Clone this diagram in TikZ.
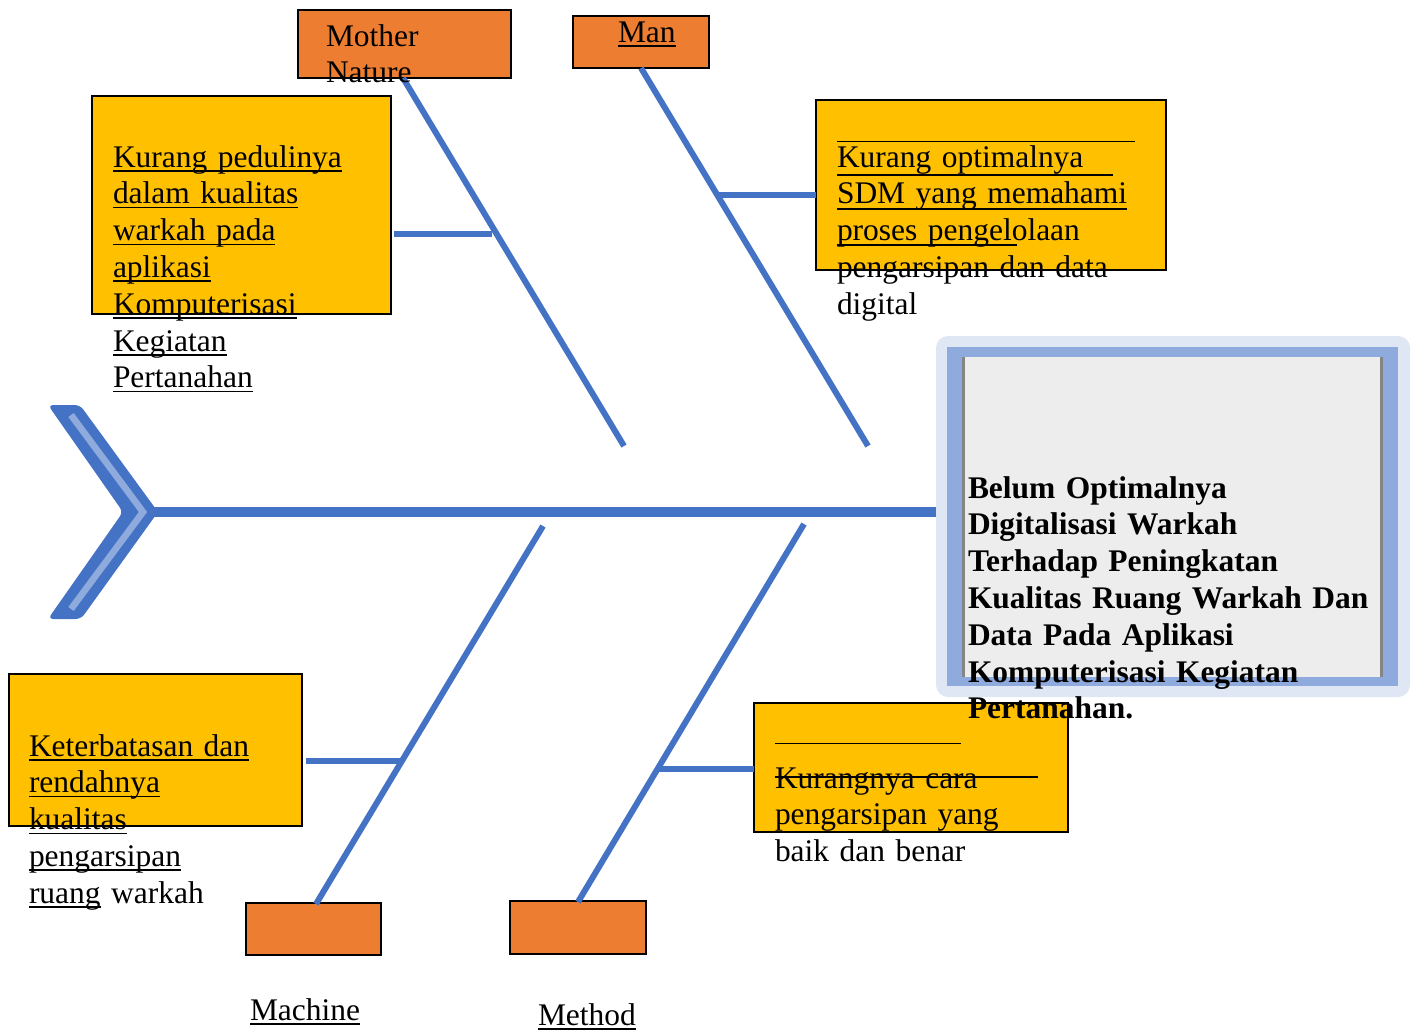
\documentclass[tikz,border=0pt]{standalone}
\usepackage{fontspec}
\setmainfont{Liberation Serif}
\newsavebox\myulbox
\newcommand\myul[1]{\leavevmode\sbox\myulbox{#1}\rlap{\rule[-3.4pt]{\wd\myulbox}{1.2pt}}\usebox\myulbox}
\definecolor{myorange}{HTML}{ED7D31}
\definecolor{myyellow}{HTML}{FFC000}
\definecolor{myblue}{HTML}{4472C4}
\definecolor{mylight}{HTML}{8FAADC}
\definecolor{myglow}{HTML}{DEE7F3}
\definecolor{mygray}{HTML}{EDEDED}
\definecolor{myedge}{HTML}{858585}
\tikzset{
  obox/.style={draw=black, line width=1.5pt, fill=myorange, anchor=north west, inner sep=0pt, outer sep=0pt},
  ybox/.style={draw=black, line width=1.5pt, fill=myyellow, anchor=north west, inner sep=0pt, outer sep=0pt},
  bone/.style={draw=myblue, line width=4.5pt},
  twig/.style={draw=myblue, line width=3.8pt},
  rulel/.style={draw=black, line width=1.2pt},
  txt/.style={anchor=base west, inner sep=0pt, outer sep=0pt, align=left, text width=420pt,
    font=\fontsize{23.6pt}{27.6pt}\selectfont},
}
\begin{document}
\begin{tikzpicture}[x=0.75pt,y=-0.75pt]
\useasboundingbox (0,0) rectangle (1415,1032);

% effect box
\node[fill=myglow, rounded corners=9pt, anchor=north west, inner sep=0pt, outer sep=0pt,
      minimum width={474*0.75pt}, minimum height={361*0.75pt}] (eff) at (936,336) {};
\node[fill=mylight, anchor=north west, inner sep=0pt, outer sep=0pt,
      minimum width={451*0.75pt}, minimum height={339*0.75pt}] (band) at (947,347) {};
\node[fill=mygray, anchor=north west, inner sep=0pt, outer sep=0pt,
      minimum width={421*0.75pt}, minimum height={320*0.75pt}] (inner) at (962,357) {};
\draw[myedge, line width=1.6pt] (inner.north west) ++(1.5,0) -- ++(0,320);
\draw[myedge, line width=1.6pt] (inner.north east) ++(-1.5,0) -- ++(0,320);

% spine
\coordinate (tip) at (150,512);
\draw[myblue, line width=7.5pt] (tip) -- (tip -| eff.west);

% chevron head
\fill[myblue, rounded corners=4pt] (48,405) -- (80,405) -- (158,512) -- (81,619) -- (48,619) -- (123,512) -- cycle;
\draw[mylight, line width=5pt, line join=miter] (71,415) -- (143,512) -- (71,609);

% category boxes
\node[obox, minimum width={213*0.75pt}, minimum height={68*0.75pt}] (mn) at (298,10) {};
\node[obox, minimum width={136*0.75pt}, minimum height={52*0.75pt}] (man) at (573,16) {};
\node[obox, minimum width={135*0.75pt}, minimum height={52*0.75pt}] (mach) at (246,903) {};
\node[obox, minimum width={136*0.75pt}, minimum height={53*0.75pt}] (meth) at (510,901) {};

% bones
\coordinate (mnb) at (403,78);   \coordinate (mne) at (624,446);
\coordinate (manb) at (641,68);  \coordinate (mane) at (868,446);
\coordinate (machb) at (316,904); \coordinate (mache) at (543,526);
\coordinate (methb) at (578,902); \coordinate (methe) at (804,524);
\draw[bone] (mnb) -- (mne);
\draw[bone] (manb) -- (mane);
\draw[bone] (machb) -- (mache);
\draw[bone] (methb) -- (methe);

% cause boxes
\node[ybox, minimum width={299*0.75pt}, minimum height={218*0.75pt}] (c1) at (92,96) {};
\node[ybox, minimum width={350*0.75pt}, minimum height={170*0.75pt}] (c2) at (816,100) {};
\node[ybox, minimum width={293*0.75pt}, minimum height={152*0.75pt}] (c3) at (9,674) {};
\node[ybox, minimum width={314*0.75pt}, minimum height={129*0.75pt}] (c4) at (754,703) {};

% twigs
\coordinate (t1) at (492,234); \coordinate (t2) at (718,195);
\coordinate (t3) at (402,761); \coordinate (t4) at (659,769);
\draw[twig] (c1.east |- t1) ++(3,0) -- (t1);
\draw[twig] (t2) -- (c2.west |- t2);
\draw[twig] (c3.east |- t3) ++(4,0) -- (t3);
\draw[twig] (t4) -- (c4.west |- t4);

% texts
\node[txt] (mnt) at (326,46) {Mother\\Nature};
\node[txt] (mant) at (618,42) {\myul{Man}};
\node[txt] (macht) at (250,1020) {\myul{Machine}};
\node[txt] (metht) at (538,1025) {\myul{Method}};

\node[txt] (c1t) at (113,167) {\myul{Kurang pedulinya}\\\myul{dalam kualitas}\\\myul{warkah pada}\\\myul{aplikasi}\\\myul{Komputerisasi}\\\myul{Kegiatan}\\\myul{Pertanahan}};

\node[txt] (c2t) at (837,167) {Kurang optimalnya\\SDM yang memahami\\proses pengelolaan\\pengarsipan dan data\\digital};
\draw[rulel] (837,141.5) -- (1135,141.5);
\draw[rulel] (837,175) -- (1113,175);
\draw[rulel] (837,209) -- (1127,209);
\draw[rulel] (837,245) -- (1017,245);

\node[txt] (c3t) at (29,756) {\myul{Keterbatasan dan}\\\myul{rendahnya}\\\myul{kualitas}\\\myul{pengarsipan}\\\myul{ruang} warkah};

\node[txt] (c4t) at (775,788) {Kurangnya cara\\pengarsipan yang\\baik dan benar};
\draw[rulel] (775,743.5) -- (961,743.5);
\draw[rulel] (775,777) -- (1038,777);

\node[txt, font=\fontsize{23.6pt}{27.6pt}\selectfont\bfseries] (efft) at (968,498) {Belum Optimalnya\\Digitalisasi Warkah\\Terhadap Peningkatan\\Kualitas Ruang Warkah Dan\\Data Pada Aplikasi\\Komputerisasi Kegiatan\\Pertanahan.};
\end{tikzpicture}
\end{document}
